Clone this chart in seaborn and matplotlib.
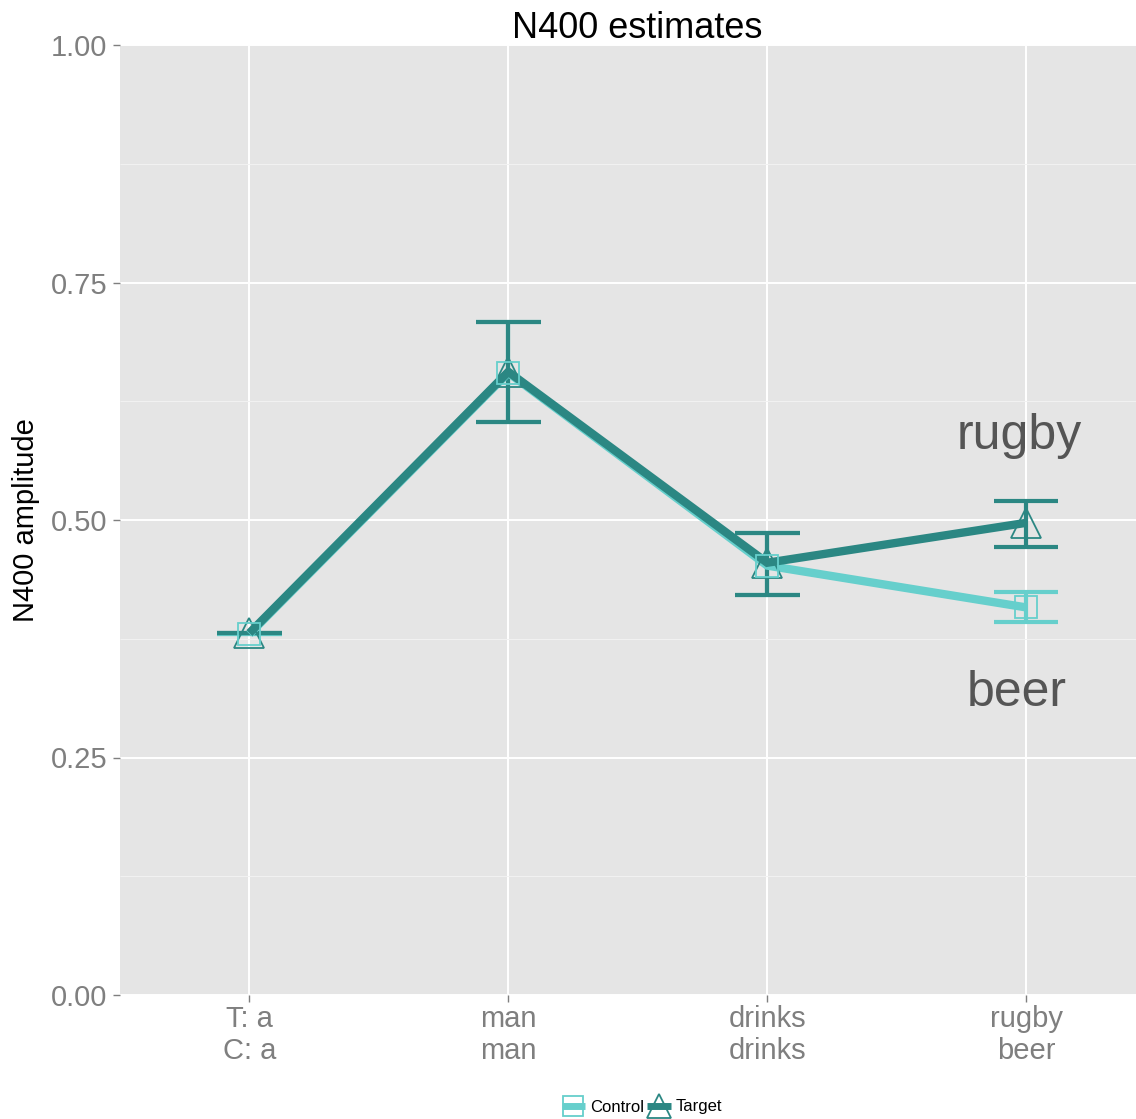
import matplotlib
matplotlib.use("Agg")
import matplotlib.pyplot as plt
from matplotlib.lines import Line2D
from matplotlib.ticker import MultipleLocator
import numpy as np
import pandas as pd
import seaborn as sns

# Word positions and their two-line labels (target sentence / control sentence)
positions = [1, 2, 3, 4]
tick_labels = ["T: a\nC: a", "man\nman", "drinks\ndrinks", "rugby\nbeer"]

# N400 estimates per condition with error bounds
target_mean = [0.381, 0.656, 0.455, 0.497]
target_low = [0.381, 0.603, 0.421, 0.472]
target_high = [0.381, 0.708, 0.486, 0.520]

control_mean = [0.380, 0.655, 0.452, 0.408]
control_low = [0.380, 0.603, 0.421, 0.393]
control_high = [0.380, 0.708, 0.486, 0.424]

conditions = ["Control", "Target"]
colors = {"Control": "#66cfcc", "Target": "#2b8783"}

df = pd.DataFrame({
    "position": positions * 2,
    "amplitude": control_mean + target_mean,
    "low": control_low + target_low,
    "high": control_high + target_high,
    "condition": ["Control"] * 4 + ["Target"] * 4,
})

sns.set_theme(style="darkgrid")
plt.rcParams["font.family"] = ["Liberation Sans", "DejaVu Sans"]
plt.rcParams["lines.solid_capstyle"] = "butt"
plt.rcParams["lines.solid_joinstyle"] = "miter"

fig = plt.figure(figsize=(11.36, 11.19), dpi=100)
ax = fig.add_axes([120 / 1136, 124 / 1119, 1035.5 / 1136, 950 / 1119])
ax.set_facecolor("#e5e5e5")

# Error bars (control first so target sits on top)
for cond in conditions:
    sub = df[df["condition"] == cond]
    ax.vlines(sub["position"], sub["low"], sub["high"], color=colors[cond], lw=3, zorder=3)
    for lvl in ("low", "high"):
        ax.hlines(sub[lvl], sub["position"] - 0.125, sub["position"] + 0.125,
                  color=colors[cond], lw=3, zorder=3)

sns.lineplot(data=df, x="position", y="amplitude", hue="condition",
             hue_order=conditions, palette=colors, lw=6, legend=False,
             ax=ax, zorder=4)

markers = {"Control": "s", "Target": "^"}
msizes = {"Control": 16, "Target": 21}
for cond in ["Target", "Control"]:
    sub = df[df["condition"] == cond]
    ax.plot(sub["position"], sub["amplitude"], ls="none", marker=markers[cond],
            ms=msizes[cond], mfc="none", mec=colors[cond], mew=1.3, zorder=5)

ax.text(3.975, 0.588, "rugby", fontsize=36, color="#555555", ha="center", va="center", zorder=6)
ax.text(3.965, 0.318, "beer", fontsize=36, color="#555555", ha="center", va="center", zorder=6)

ax.set_xlim(0.5, 4.5)
ax.set_ylim(0, 1)
ax.set_xticks(positions)
ax.set_xticklabels(tick_labels, fontsize=21, color="#7f7f7f", linespacing=1.2)
ax.set_yticks([0, 0.25, 0.5, 0.75, 1.0])
ax.set_yticklabels(["0.00", "0.25", "0.50", "0.75", "1.00"], fontsize=21, color="#7f7f7f")
ax.yaxis.set_minor_locator(MultipleLocator(0.125))
ax.grid(which="major", color="white", lw=1.4)
ax.grid(which="minor", axis="y", color="#f2f2f2", lw=0.7)
ax.tick_params(axis="both", which="major", length=5, width=1, color="#7f7f7f", pad=4, left=True, bottom=True)
ax.tick_params(axis="x", which="major", pad=2)
ax.tick_params(axis="y", which="minor", length=0)
for s in ax.spines.values():
    s.set_visible(False)

ax.set_xlabel("")
ax.set_ylabel("N400 amplitude", fontsize=21, color="black", labelpad=8)
fig.text(637 / 1136, 1 - 28 / 1119, "N400 estimates", fontsize=26, color="black",
         ha="center", va="center")

handles = [
    Line2D([0], [0], color=colors["Control"], lw=5, marker="s", ms=15, mfc="none",
           mec=colors["Control"], mew=1.3),
    Line2D([0], [0], color=colors["Target"], lw=5, marker="^", ms=17, mfc="none",
           mec=colors["Target"], mew=1.3),
]
leg = fig.legend(handles, conditions, loc="center", bbox_to_anchor=(642 / 1136, 1 - 1107 / 1119),
                 ncol=2, frameon=False, fontsize=12, handlelength=1.4, handletextpad=0.3,
                 columnspacing=0.2)
for t in leg.get_texts():
    t.set_color("black")

fig.savefig("out.png", dpi=100)
